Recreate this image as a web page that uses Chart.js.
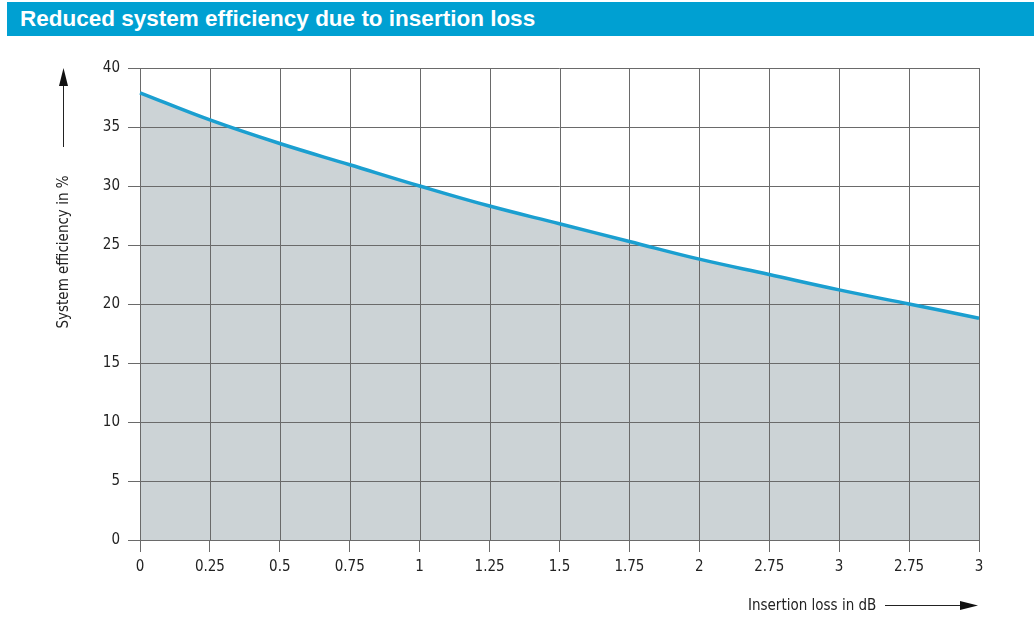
<!DOCTYPE html>
<html>
<head>
<meta charset="utf-8">
<script src="https://cdn.jsdelivr.net/npm/chart.js@4/dist/chart.umd.min.js"></script>
<style>
  html, body { margin: 0; padding: 0; background: #fff; }
  #wrap { position: relative; width: 1034px; height: 630px; overflow: hidden; }
  #bar { position: absolute; left: 7px; top: 2px; width: 1027px; height: 34px; background: #00a0d2;
         color: #fff; font: bold 22.5px "Liberation Sans", Arial, sans-serif; line-height: 34px; box-sizing: border-box; padding-left: 13px; }
  canvas { position: absolute; left: 0; top: 0; }
</style>
</head>
<body>
<div id="wrap">
  <canvas id="c" width="1034" height="630"></canvas>
  <div id="bar">Reduced system efficiency due to insertion loss</div>
</div>
<script>
const chartTitle = 'Reduced system efficiency due to insertion loss';
const xLabels = ['0','0.25','0.5','0.75','1','1.25','1.5','1.75','2','2.75','3','2.75','3'];
const efficiency = [37.9, 35.6, 33.6, 31.8, 30.0, 28.3, 26.8, 25.3, 23.8, 22.5, 21.2, 20.0, 18.8];
const yTicks = [0, 5, 10, 15, 20, 25, 30, 35, 40];
const yTitle = 'System efficiency in %';
const xTitle = 'Insertion loss in dB';

const FONT = '"Liberation Sans Narrow", "DejaVu Sans Condensed", Arial, sans-serif';
const GRID = '#6a6a6a';

const overlay = {
  id: 'overlay',
  afterDatasetDraw(chart, args) {
    if (args.index !== 1) return;
    const ctx = chart.ctx, a = chart.chartArea;
    const xs = chart.scales.x, ys = chart.scales.y;
    ctx.save();
    ctx.strokeStyle = GRID; ctx.lineWidth = 1;
    ctx.beginPath();
    for (let i = 0; i < xLabels.length; i++) {
      const px = Math.round(xs.getPixelForValue(i)) + 0.5;
      ctx.moveTo(px, a.top); ctx.lineTo(px, a.bottom);
    }
    yTicks.forEach(v => {
      const py = Math.round(ys.getPixelForValue(v)) + 0.5;
      ctx.moveTo(a.left, py); ctx.lineTo(a.right, py);
    });
    ctx.stroke();
    ctx.restore();
  },
  afterDraw(chart) {
    const ctx = chart.ctx;
    ctx.save();
    ctx.fillStyle = '#222'; ctx.strokeStyle = '#222';
    ctx.font = '15px ' + FONT;
    ctx.translate(64, 252);
    ctx.rotate(-Math.PI / 2);
    ctx.textAlign = 'center'; ctx.textBaseline = 'middle';
    ctx.fillText(yTitle, 0, 0);
    ctx.restore();
    ctx.save();
    ctx.strokeStyle = '#222'; ctx.fillStyle = '#111'; ctx.lineWidth = 1;
    ctx.beginPath(); ctx.moveTo(63.5, 147); ctx.lineTo(63.5, 84); ctx.stroke();
    ctx.beginPath(); ctx.moveTo(63.5, 68); ctx.lineTo(59, 86); ctx.lineTo(68, 86); ctx.closePath(); ctx.fill();
    ctx.font = '15px ' + FONT;
    ctx.textAlign = 'left'; ctx.textBaseline = 'middle';
    ctx.fillStyle = '#222';
    ctx.fillText(xTitle, 748, 606);
    ctx.beginPath(); ctx.moveTo(885, 605.5); ctx.lineTo(962, 605.5); ctx.stroke();
    ctx.fillStyle = '#111';
    ctx.beginPath(); ctx.moveTo(978, 605.5); ctx.lineTo(960, 601); ctx.lineTo(960, 610); ctx.closePath(); ctx.fill();
    ctx.restore();
  }
};

new Chart(document.getElementById('c'), {
  type: 'line',
  data: {
    labels: xLabels,
    datasets: [
      { data: efficiency, borderColor: '#1b9fd0', borderWidth: 3.5, fill: false, pointRadius: 0, tension: 0.4 },
      { data: efficiency, borderWidth: 0, borderColor: 'rgba(0,0,0,0)', backgroundColor: '#ccd3d6', fill: 'origin', pointRadius: 0, tension: 0.4 }
    ]
  },
  options: {
    responsive: false,
    animation: false,
    events: [],
    layout: { padding: { top: 68, right: 55, left: 0, bottom: 0 } },
    plugins: { legend: { display: false }, tooltip: { enabled: false }, title: { display: false } },
    scales: {
      x: {
        type: 'category',
        offset: false,
        afterFit(s) { s.height = 90; },
        grid: { color: GRID, lineWidth: 1, tickLength: 12, drawOnChartArea: false },
        border: { color: GRID },
        ticks: { color: '#222', font: { family: FONT, size: 15 }, padding: 6, maxRotation: 0, autoSkip: false }
      },
      y: {
        min: 0, max: 40,
        afterFit(s) { s.width = 140; },
        afterBuildTicks(s) { s.ticks = yTicks.map(v => ({ value: v })); },
        grid: { color: GRID, lineWidth: 1, tickLength: 12, drawOnChartArea: false },
        border: { color: GRID },
        ticks: { color: '#222', font: { family: FONT, size: 15 }, padding: 8 }
      }
    }
  },
  plugins: [overlay]
});
</script>
</body>
</html>
